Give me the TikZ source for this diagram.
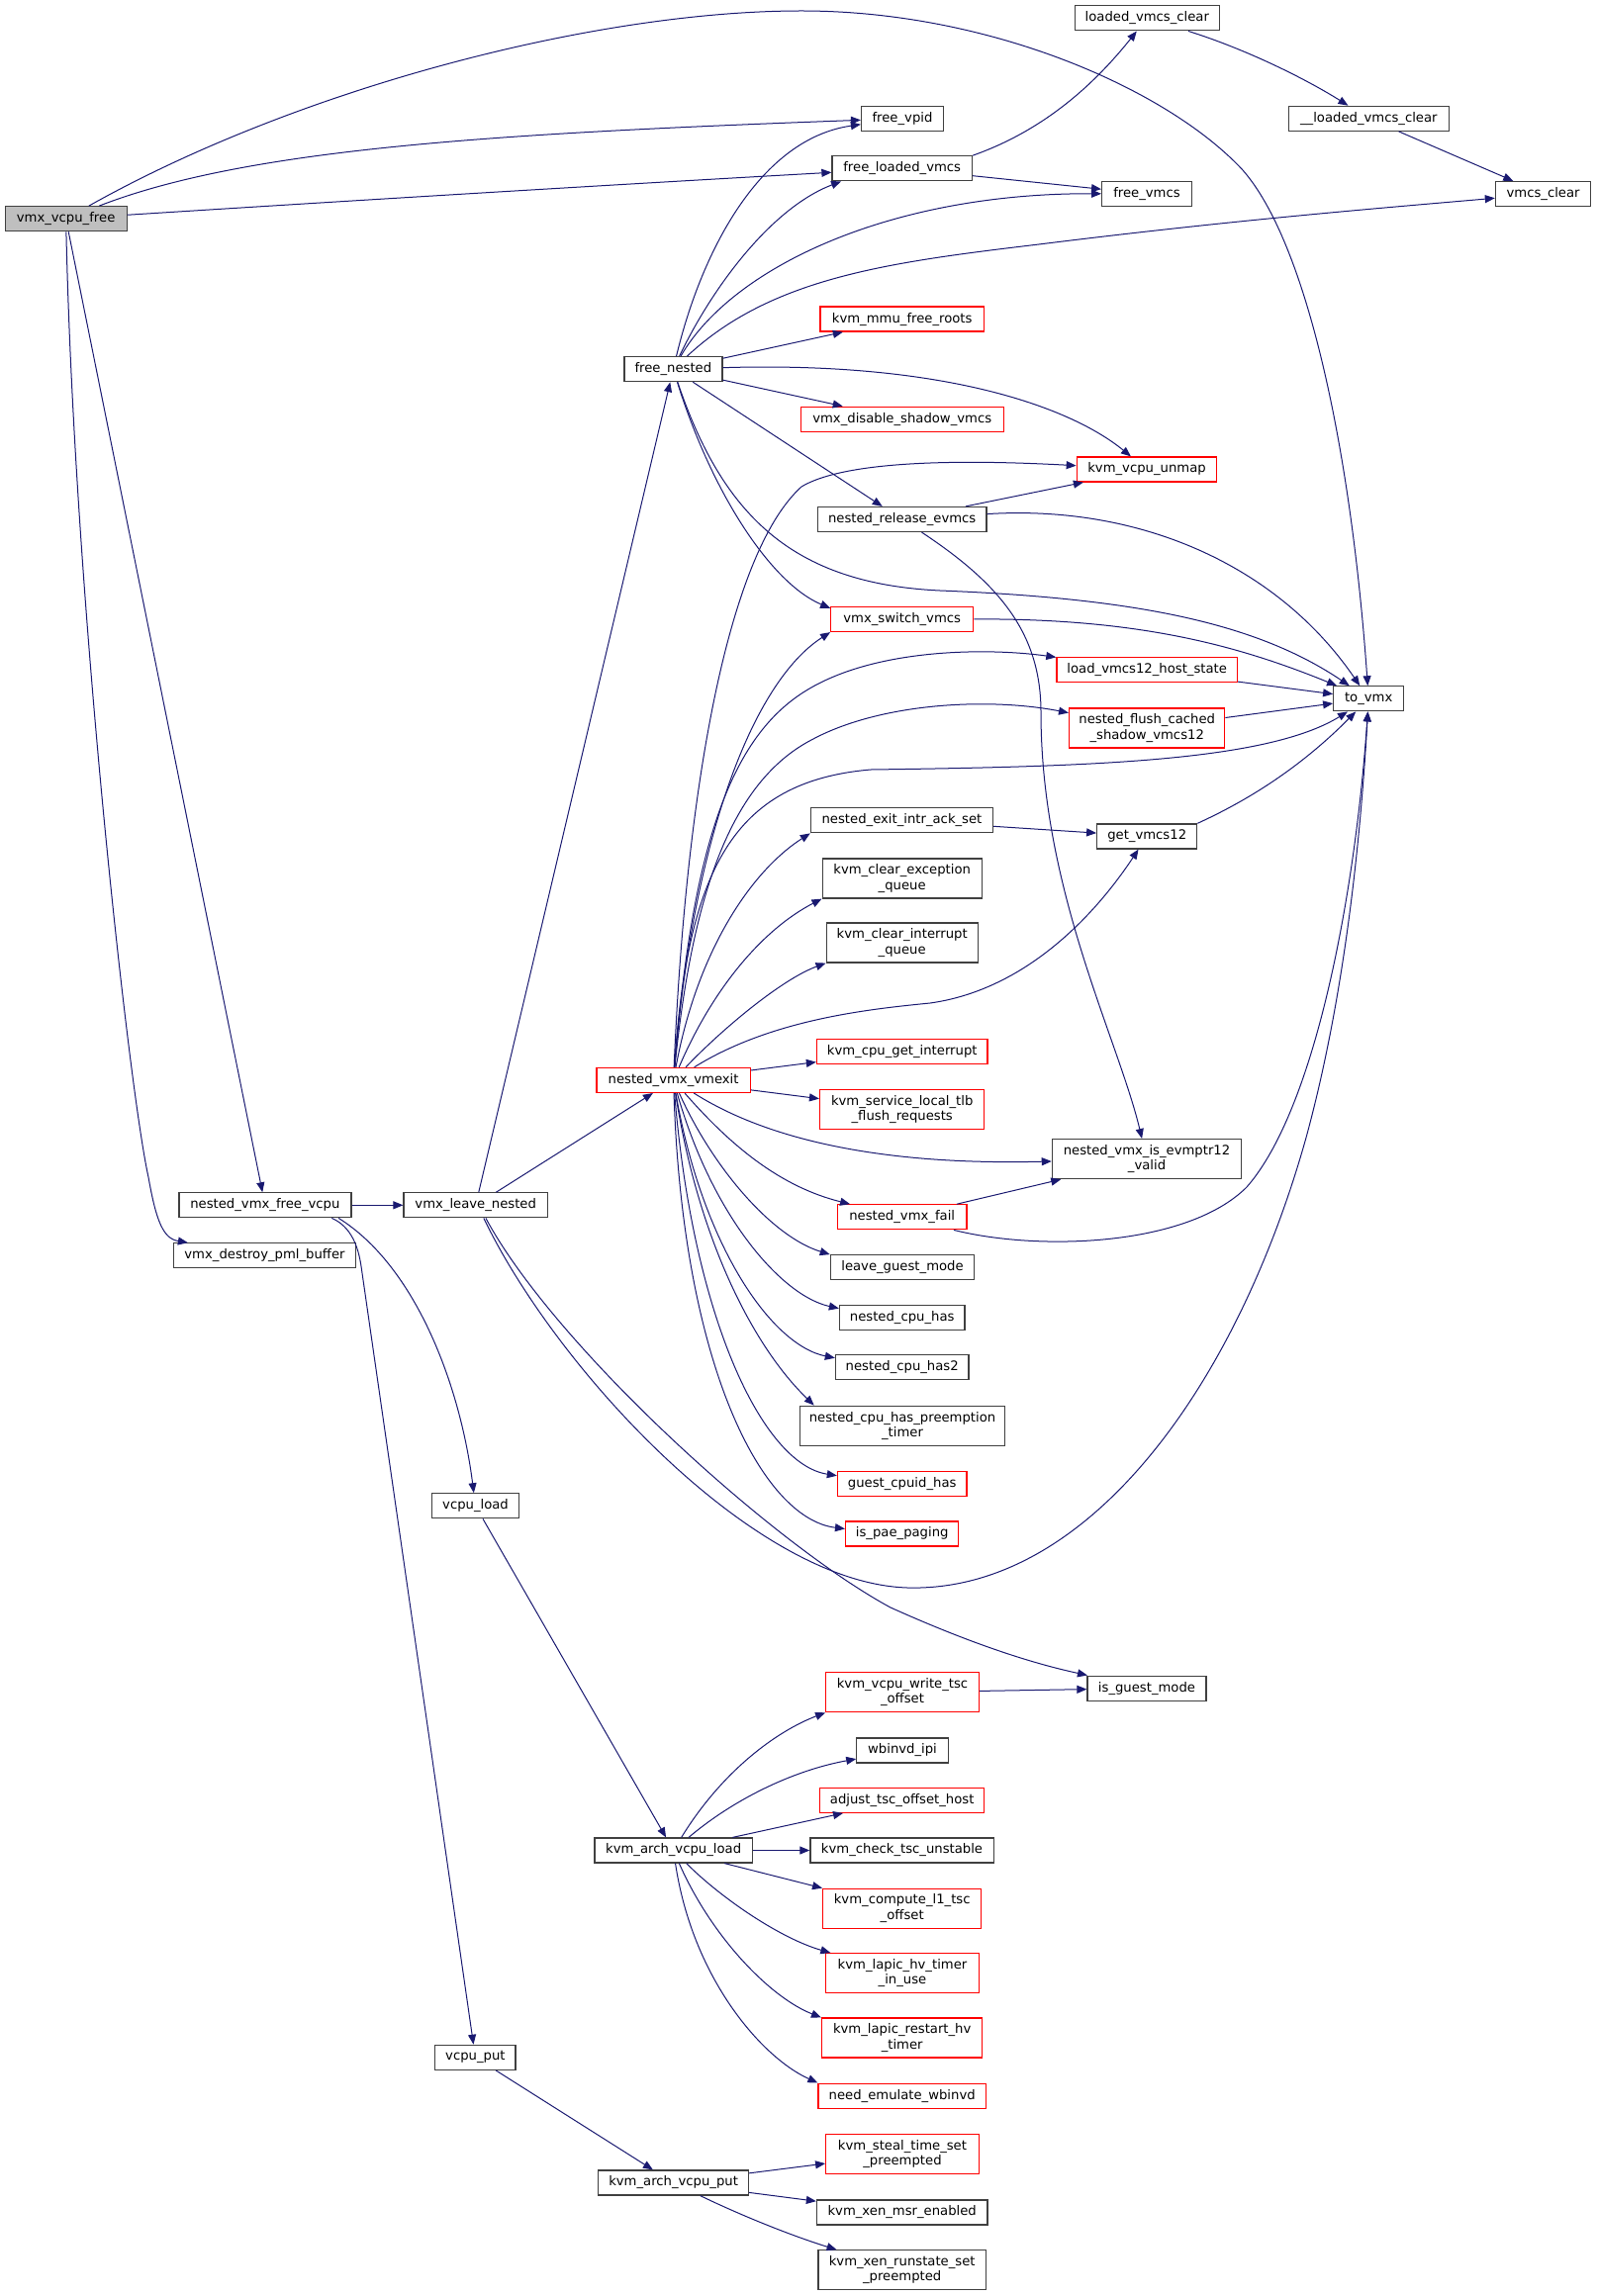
\documentclass[tikz,border=0pt]{standalone}
\usepackage{fontspec}
\setmainfont{DejaVu Sans}
\usetikzlibrary{arrows.meta}
\definecolor{callblue}{HTML}{191970}
\tikzset{
  fn/.style={draw=black!75, line width=0.6pt, fill=white, minimum height=12.5pt, inner sep=1pt, align=center, font=\fontsize{6.6}{7.65}\selectfont},
  tall/.style={minimum height=20pt},
  undoc/.style={draw=red},
  root/.style={fill=black!25},
  calls/.style={draw=callblue, line width=0.5pt, -{Triangle[length=5pt,width=4pt]}}
}
\begin{document}
\begin{tikzpicture}[x=0.5pt, y=-0.5pt]
  \useasboundingbox (0,0) rectangle (1613,2321);
  \node[fn, root, minimum width=61.5pt] (vfree) at (66.6,221.2) {vmx\_vcpu\_free};
  \node[fn, minimum width=87pt] (freevcpu) at (267.9,1218.3) {nested\_vmx\_free\_vcpu};
  \node[fn, minimum width=92.2pt] (pmlbuf) at (267.5,1269.3) {vmx\_destroy\_pml\_buffer};
  \node[fn, minimum width=72.7pt] (leavenest) at (480.7,1218.3) {vmx\_leave\_nested};
  \node[fn, minimum width=44.2pt] (vload) at (480.5,1522.3) {vcpu\_load};
  \node[fn, minimum width=40.65pt] (vput) at (480.4,2079.8) {vcpu\_put};
  \node[fn, minimum width=49.5pt] (freenest) at (680.4,373.2) {free\_nested};
  \node[fn, undoc, minimum width=77.6pt] (vmexit) at (680.6,1091.9) {nested\_vmx\_vmexit};
  \node[fn, minimum width=79.6pt] (archload) at (680.6,1870.5) {kvm\_arch\_vcpu\_load};
  \node[fn, minimum width=76pt] (archput) at (680.6,2206.5) {kvm\_arch\_vcpu\_put};
  \node[fn, minimum width=41.5pt] (freevpid) at (912,119.8) {free\_vpid};
  \node[fn, minimum width=70.75pt] (freelv) at (911.7,170.3) {free\_loaded\_vmcs};
  \node[fn, undoc, minimum width=82.7pt] (mmuroots) at (911.7,322.6) {kvm\_mmu\_free\_roots};
  \node[fn, undoc, minimum width=102.4pt] (disshadow) at (911.7,423.7) {vmx\_disable\_shadow\_vmcs};
  \node[fn, minimum width=85.3pt] (relevmcs) at (911.7,525) {nested\_release\_evmcs};
  \node[fn, undoc, minimum width=72pt] (switchv) at (911.7,626.3) {vmx\_switch\_vmcs};
  \node[fn, minimum width=92.1pt] (ackset) at (911.5,829.3) {nested\_exit\_intr\_ack\_set};
  \node[fn, tall, minimum width=80.6pt] (clrexc) at (911.7,888) {kvm\_clear\_exception\\\_queue};
  \node[fn, tall, minimum width=76.55pt] (clrint) at (911.7,953) {kvm\_clear\_interrupt\\\_queue};
  \node[fn, undoc, minimum width=86.25pt] (getint) at (911.7,1062.6) {kvm\_cpu\_get\_interrupt};
  \node[fn, undoc, tall, minimum width=83.15pt] (tlbflush) at (911.7,1121.3) {kvm\_service\_local\_tlb\\\_flush\_requests};
  \node[fn, undoc, minimum width=65.3pt] (vfail) at (911.7,1230.3) {nested\_vmx\_fail};
  \node[fn, minimum width=72.7pt] (leaveg) at (912,1281.2) {leave\_guest\_mode};
  \node[fn, minimum width=63.25pt] (cpuhas) at (911.7,1331.6) {nested\_cpu\_has};
  \node[fn, minimum width=67.3pt] (cpuhas2) at (911.7,1382.3) {nested\_cpu\_has2};
  \node[fn, tall, minimum width=103.8pt] (preempt) at (912,1441.2) {nested\_cpu\_has\_preemption\\\_timer};
  \node[fn, undoc, minimum width=65.3pt] (cpuid) at (911.7,1499.8) {guest\_cpuid\_has};
  \node[fn, undoc, minimum width=57.15pt] (paepg) at (911.7,1550.5) {is\_pae\_paging};
  \node[fn, undoc, tall, minimum width=77.3pt] (writetsc) at (912,1710.7) {kvm\_vcpu\_write\_tsc\\\_offset};
  \node[fn, minimum width=46.2pt] (wbinvd) at (912,1769.5) {wbinvd\_ipi};
  \node[fn, undoc, minimum width=83.15pt] (adjtsc) at (911.7,1819.8) {adjust\_tsc\_offset\_host};
  \node[fn, minimum width=92.6pt] (chktsc) at (911.5,1870.5) {kvm\_check\_tsc\_unstable};
  \node[fn, undoc, tall, minimum width=80.1pt] (l1tsc) at (911.7,1929.1) {kvm\_compute\_l1\_tsc\\\_offset};
  \node[fn, undoc, tall, minimum width=77.3pt] (hvuse) at (912,1994.6) {kvm\_lapic\_hv\_timer\\\_in\_use};
  \node[fn, undoc, tall, minimum width=81.15pt] (hvrestart) at (911.7,2060) {kvm\_lapic\_restart\_hv\\\_timer};
  \node[fn, undoc, minimum width=84.7pt] (emwbinvd) at (911.7,2118.6) {need\_emulate\_wbinvd};
  \node[fn, undoc, tall, minimum width=77.3pt] (steal) at (912,2177.2) {kvm\_steal\_time\_set\\\_preempted};
  \node[fn, minimum width=86.25pt] (xenmsr) at (911.7,2236.4) {kvm\_xen\_msr\_enabled};
  \node[fn, tall, minimum width=84.7pt] (runstate) at (911.7,2294.8) {kvm\_xen\_runstate\_set\\\_preempted};
  \node[fn, minimum width=73pt] (lvclear) at (1159.3,18.4) {loaded\_vmcs\_clear};
  \node[fn, minimum width=45.35pt] (freevmcs) at (1159,196) {free\_vmcs};
  \node[fn, undoc, minimum width=70.75pt] (unmap) at (1159,474.5) {kvm\_vcpu\_unmap};
  \node[fn, undoc, minimum width=91.3pt] (loadhost) at (1159.2,677.2) {load\_vmcs12\_host\_state};
  \node[fn, undoc, tall, minimum width=78.6pt] (flushsh) at (1159.2,736) {nested\_flush\_cached\\\_shadow\_vmcs12};
  \node[fn, minimum width=50.5pt] (getv12) at (1159.2,845.4) {get\_vmcs12};
  \node[fn, tall, minimum width=95.65pt] (evmptr) at (1159,1171.6) {nested\_vmx\_is\_evmptr12\\\_valid};
  \node[fn, minimum width=60pt] (isguest) at (1159,1706.6) {is\_guest\_mode};
  \node[fn, minimum width=81pt] (ulvclear) at (1383.3,119.8) {\_\_loaded\_vmcs\_clear};
  \node[fn, minimum width=35.5pt] (tovmx) at (1383.2,706.3) {to\_vmx};
  \node[fn, minimum width=48.2pt] (vmcsclear) at (1559.6,196) {vmcs\_clear};

  \draw[calls] (vfree) .. controls (300,90) and (600,11) .. (810,11) .. controls (1000,11) and (1180,90) .. (1256,172) .. controls (1320,245) and (1365,450) .. (tovmx);
  \draw[calls] (vfree) .. controls (250,150) and (500,135) .. (freevpid);
  \draw[calls] (vfree) .. controls (400,200) and (650,185) .. (freelv);
  \draw[calls] (vfree) -- (freevcpu);
  \draw[calls] (vfree) .. controls (75,600) and (130,1100) .. (150,1190) .. controls (158,1235) and (165,1252) .. (pmlbuf);
  \draw[calls] (freevcpu) -- (leavenest);
  \draw[calls] (freevcpu.-10) .. controls (420,1280) and (465,1400) .. (vload);
  \draw[calls] (freevcpu.-11) .. controls (355,1240) and (362,1260) .. (365,1280) -- (vput);
  \draw[calls] (leavenest) -- (freenest);
  \draw[calls] (leavenest) -- (vmexit);
  \draw[calls] (leavenest.-52) .. controls (560,1360) and (780,1560) .. (900,1625) .. controls (1000,1670) and (1060,1685) .. (isguest);
  \draw[calls] (leavenest.-58) .. controls (560,1380) and (760,1600) .. (917,1605) .. controls (1100,1610) and (1250,1400) .. (1320,1150) .. controls (1350,1040) and (1372,900) .. (tovmx);
  \draw[calls] (freenest) .. controls (710,250) and (770,140) .. (freevpid);
  \draw[calls] (freenest) .. controls (720,290) and (780,210) .. (freelv.-168);
  \draw[calls] (freenest) .. controls (740,270) and (900,195) .. (freevmcs);
  \draw[calls] (freenest) .. controls (780,280) and (900,265) .. (1050,247) .. controls (1250,222) and (1400,210) .. (vmcsclear);
  \draw[calls] (freenest) -- (mmuroots);
  \draw[calls] (freenest) .. controls (950,365) and (1080,410) .. (unmap);
  \draw[calls] (freenest) -- (disshadow);
  \draw[calls] (freenest) -- (relevmcs);
  \draw[calls] (freenest) .. controls (720,500) and (780,590) .. (switchv.171);
  \draw[calls] (freenest) .. controls (730,520) and (800,590) .. (950,597) .. controls (1150,605) and (1270,630) .. (tovmx);
  \draw[calls] (freelv.north east) .. controls (1060,130) and (1110,80) .. (lvclear);
  \draw[calls] (freelv) -- (freevmcs);
  \draw[calls] (lvclear) .. controls (1260,50) and (1320,80) .. (ulvclear);
  \draw[calls] (ulvclear) -- (vmcsclear);
  \draw[calls] (relevmcs) -- (unmap);
  \draw[calls] (relevmcs) .. controls (1150,510) and (1290,570) .. (tovmx);
  \draw[calls] (relevmcs) .. controls (1010,590) and (1052,640) .. (1052,720) .. controls (1052,900) and (1130,1050) .. (evmptr);
  \draw[calls] (switchv) .. controls (1150,625) and (1250,652) .. (tovmx);
  \draw[calls] (loadhost) -- (tovmx);
  \draw[calls] (flushsh) -- (tovmx);
  \draw[calls] (getv12.north east) .. controls (1270,805) and (1320,770) .. (tovmx);
  \draw[calls] (ackset) -- (getv12);
  \draw[calls] (vmexit) .. controls (693,800) and (735,560) .. (810,492) .. controls (860,462) and (1000,466) .. (unmap);
  \draw[calls] (vmexit) .. controls (700,850) and (760,690) .. (switchv.-170);
  \draw[calls] (vmexit) .. controls (700,850) and (740,740) .. (820,695) .. controls (890,655) and (1000,655) .. (loadhost);
  \draw[calls] (vmexit) .. controls (700,900) and (740,790) .. (820,748) .. controls (890,710) and (1000,705) .. (flushsh);
  \draw[calls] (vmexit) .. controls (695,880) and (740,790) .. (880,778) .. controls (1100,775) and (1280,770) .. (tovmx);
  \draw[calls] (vmexit) .. controls (705,960) and (760,880) .. (ackset.south west);
  \draw[calls] (vmexit) .. controls (720,1000) and (770,940) .. (clrexc.south west);
  \draw[calls] (vmexit) .. controls (730,1040) and (790,990) .. (clrint.south west);
  \draw[calls] (vmexit) .. controls (780,1030) and (880,1020) .. (940,1014) .. controls (1040,1000) and (1110,920) .. (getv12);
  \draw[calls] (vmexit) -- (getint);
  \draw[calls] (vmexit) -- (tlbflush);
  \draw[calls] (vmexit) .. controls (780,1155) and (900,1178) .. (evmptr);
  \draw[calls] (vmexit) .. controls (740,1160) and (790,1200) .. (vfail);
  \draw[calls] (vmexit) .. controls (720,1180) and (780,1250) .. (leaveg.north west);
  \draw[calls] (vmexit) .. controls (720,1230) and (790,1310) .. (cpuhas.172);
  \draw[calls] (vmexit) .. controls (710,1260) and (780,1360) .. (cpuhas2.172);
  \draw[calls] (vmexit) .. controls (705,1250) and (760,1360) .. (preempt.167);
  \draw[calls] (vmexit) .. controls (700,1330) and (770,1480) .. (cpuid.173);
  \draw[calls] (vmexit) .. controls (690,1380) and (770,1535) .. (paepg.175);
  \draw[calls] (vfail) -- (evmptr);
  \draw[calls] (vfail) .. controls (1050,1265) and (1200,1260) .. (1260,1200) .. controls (1330,1120) and (1370,900) .. (tovmx);
  \draw[calls] (vload) -- (archload);
  \draw[calls] (vput) -- (archput);
  \draw[calls] (archload) .. controls (730,1790) and (785,1750) .. (writetsc.south west);
  \draw[calls] (archload) .. controls (740,1820) and (800,1790) .. (wbinvd);
  \draw[calls] (archload) -- (adjtsc);
  \draw[calls] (archload) -- (chktsc);
  \draw[calls] (archload) -- (l1tsc);
  \draw[calls] (archload) .. controls (730,1920) and (790,1960) .. (hvuse);
  \draw[calls] (archload) .. controls (720,1960) and (780,2020) .. (hvrestart.north west);
  \draw[calls] (archload) .. controls (700,2000) and (770,2080) .. (emwbinvd.north west);
  \draw[calls] (writetsc) -- (isguest);
  \draw[calls] (archput) -- (steal);
  \draw[calls] (archput) -- (xenmsr);
  \draw[calls] (archput) .. controls (750,2240) and (800,2260) .. (runstate);
\end{tikzpicture}
\end{document}
